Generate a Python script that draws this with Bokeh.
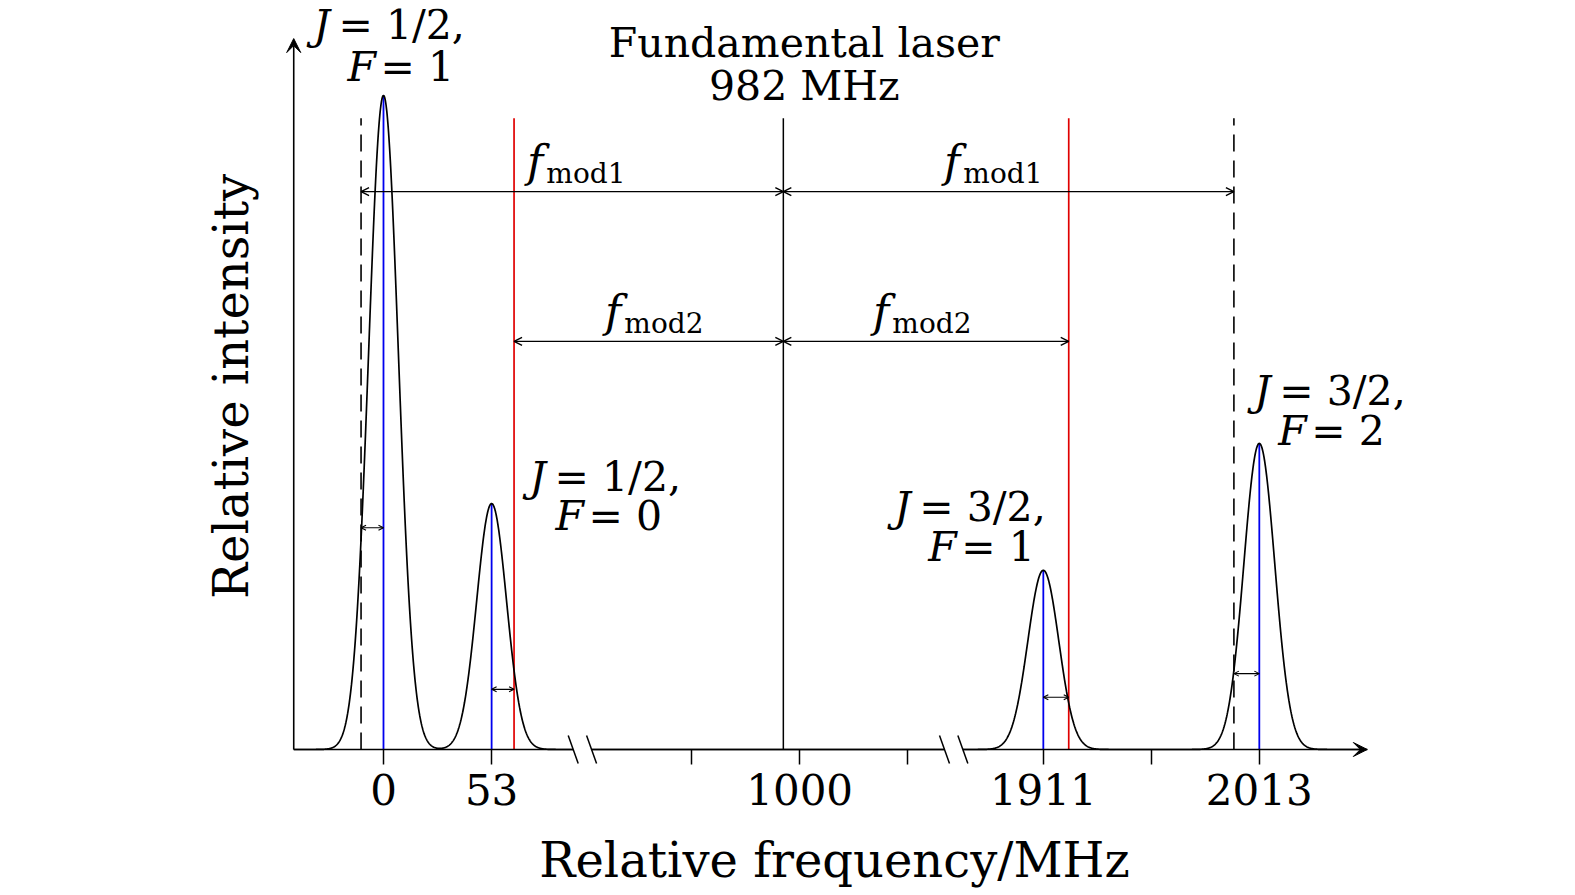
import numpy as np
from bokeh.plotting import figure
from bokeh.models import Range1d, FixedTicker, Arrow, VeeHead, OpenHead
from bokeh.core.properties import value
from bokeh.embed import file_html
from bokeh.resources import INLINE

# ---------------- data ----------------
peak_freq = [0, 53, 1911, 2013]            # MHz
peak_height = [1.0, 0.376, 0.274, 0.468]   # relative intensity
peak_sigma = 7.3                           # MHz (gaussian width)
peak_J = ["1/2", "1/2", "3/2", "3/2"]
peak_F = ["1", "0", "1", "2"]

tick_freq = [0, 53, 947, 1000, 1053, 1911, 1962, 2013]
tick_text = ["0", "53", "", "1000", "", "1911", "", "2013"]

laser_title = "Fundamental laser"
laser_label = "982 MHz"
laser_pos = 992                 # drawn position of the fundamental on the axis
sideband1_pos = [-11, 2001]     # dashed lines (f_mod1 sidebands)
sideband2_pos = [64, 1923]      # red lines (f_mod2 sidebands)
marker_top = 0.965
fmod1_level = 0.853
fmod2_level = 0.624
offset_arrow_level = [0.339, 0.092, 0.080, 0.116]

# broken axis: shown frequency ranges and their drawing scale
axis_segments = [(-44, 93), (898, 1071), (1873, 2064)]
segment_scale = [1.0, 1.0, 1.038]
BREAK_GAP = 9.0
y_axis_top = 1.087

# ---------------- broken-axis transform ----------------
seg_start = []
_u = axis_segments[0][0]
for (lo, hi), k in zip(axis_segments, segment_scale):
    seg_start.append(_u)
    _u += (hi - lo) * k + BREAK_GAP


def pos(f):
    f = np.asarray(f, dtype=float)
    out = np.full(f.shape, np.nan)
    for (lo, hi), k, u0 in zip(axis_segments, segment_scale, seg_start):
        m = (f >= lo - 1e-9) & (f <= hi + 1e-9)
        out[m] = u0 + (f[m] - lo) * k
    return out


def P(f):
    return float(pos([f])[0])


FONT = value("DejaVu Serif")
BLACK = "black"
FS = 41          # annotation font size (px)
SUB = 28         # subscript font size (px)
BL = -15         # baseline correction for FS text
BLS = -10        # baseline correction for SUB text

p = figure(width=1567, height=891,
           x_range=Range1d(-61.27, 503.43), y_range=Range1d(-0.02294, 1.1330),
           output_backend="svg", toolbar_location=None,
           min_border_left=258, min_border_right=157,
           min_border_top=8, min_border_bottom=127)
p.xgrid.visible = False
p.ygrid.visible = False
p.outline_line_color = None
p.background_fill_color = "white"
p.border_fill_color = "white"

# x axis: ticks + labels from the library, line drawn as broken segments
tick_u = [round(P(f), 4) for f in tick_freq]
p.xaxis.ticker = FixedTicker(ticks=tick_u, minor_ticks=[])
p.xaxis.major_label_overrides = {u: t for u, t in zip(tick_u, tick_text)}
p.xaxis.axis_line_color = None
p.xaxis.major_tick_in = 15
p.xaxis.major_tick_out = 0
p.xaxis.minor_tick_in = 0
p.xaxis.minor_tick_out = 0
p.xaxis.major_tick_line_width = 1.5
p.xaxis.major_tick_line_color = BLACK
p.xaxis.major_label_text_font = "DejaVu Serif"
p.xaxis.major_label_text_font_size = "42px"
p.xaxis.major_label_text_color = BLACK
p.xaxis.major_label_standoff = 9
p.xaxis.axis_label = "Relative frequency/MHz"
p.xaxis.axis_label_text_font = "DejaVu Serif"
p.xaxis.axis_label_text_font_size = "48px"
p.xaxis.axis_label_text_font_style = "normal"
p.xaxis.axis_label_text_color = BLACK
p.xaxis.axis_label_standoff = 24

p.yaxis.ticker = FixedTicker(ticks=[], minor_ticks=[])
p.yaxis.axis_line_color = None
p.yaxis.major_tick_out = 0
p.yaxis.major_tick_in = 0
p.yaxis.minor_tick_out = 0
p.yaxis.minor_tick_in = 0
p.yaxis.major_label_text_font_size = "0px"
p.yaxis.axis_label = "Relative intensity"
p.yaxis.axis_label_text_font = "DejaVu Serif"
p.yaxis.axis_label_text_font_size = "48px"
p.yaxis.axis_label_text_font_style = "normal"
p.yaxis.axis_label_text_color = BLACK
p.yaxis.axis_label_standoff = 0

# ---------------- marker lines ----------------
p.segment(x0=list(pos(sideband1_pos)), y0=[0, 0], x1=list(pos(sideband1_pos)),
          y1=[marker_top] * 2, line_color=BLACK, line_width=1.6, line_dash="17 9")
p.segment(x0=list(pos(sideband2_pos)), y0=[0, 0], x1=list(pos(sideband2_pos)),
          y1=[marker_top] * 2, line_color="#e00000", line_width=1.7)
p.segment(x0=[P(laser_pos)], y0=[0], x1=[P(laser_pos)], y1=[marker_top],
          line_color=BLACK, line_width=1.5)
p.segment(x0=list(pos(peak_freq)), y0=[0] * 4, x1=list(pos(peak_freq)),
          y1=peak_height, line_color="#0000ee", line_width=1.8)

# ---------------- spectrum ----------------
for lo, hi in axis_segments:
    f = np.linspace(lo, hi, 800)
    inten = np.zeros_like(f)
    for f0, h in zip(peak_freq, peak_height):
        inten += h * np.exp(-(f - f0) ** 2 / (2 * peak_sigma ** 2))
    p.line(pos(f), inten, line_color=BLACK, line_width=1.7)

# ---------------- axes (broken) ----------------
for lo, hi in axis_segments[:-1]:
    p.segment(x0=[P(lo)], y0=[0], x1=[P(hi)], y1=[0], line_color=BLACK, line_width=1.6)
last_lo, last_hi = axis_segments[-1]
p.add_layout(Arrow(x_start=P(last_lo), y_start=0, x_end=P(last_hi), y_end=0,
                   line_color=BLACK, line_width=1.6,
                   end=VeeHead(size=14, fill_color=BLACK, line_color=BLACK)))
x_left = P(axis_segments[0][0])
p.add_layout(Arrow(x_start=x_left, y_start=0, x_end=x_left, y_end=y_axis_top,
                   line_color=BLACK, line_width=1.6,
                   end=VeeHead(size=14, fill_color=BLACK, line_color=BLACK)))
# break marks
bx = []
for (lo, hi) in axis_segments[:-1]:
    bx.append(P(hi))
for (lo, hi) in axis_segments[1:]:
    bx.append(P(lo))
p.segment(x0=[b - 2.45 for b in bx], y0=[0.0214] * len(bx),
          x1=[b + 2.45 for b in bx], y1=[-0.0214] * len(bx),
          line_color=BLACK, line_width=1.5)


# ---------------- arrows ----------------
def darrow(f0, f1, y, size=8, lw=1.4):
    p.add_layout(Arrow(x_start=P(f0), y_start=y, x_end=P(f1), y_end=y,
                       line_color=BLACK, line_width=lw,
                       start=OpenHead(size=size, line_width=lw, line_color=BLACK),
                       end=OpenHead(size=size, line_width=lw, line_color=BLACK)))


darrow(sideband1_pos[0], laser_pos, fmod1_level)
darrow(laser_pos, sideband1_pos[1], fmod1_level)
darrow(sideband2_pos[0], laser_pos, fmod2_level)
darrow(laser_pos, sideband2_pos[1], fmod2_level)
hfs_pairs = [(sideband1_pos[0], peak_freq[0]), (peak_freq[1], sideband2_pos[0]),
             (peak_freq[2], sideband2_pos[1]), (sideband1_pos[1], peak_freq[3])]
for (a, b), y in zip(hfs_pairs, offset_arrow_level):
    darrow(a, b, y, size=5, lw=1.1)

# ---------------- texts ----------------
lx = P(laser_pos)
p.text(x=[lx, lx], y=[marker_top, marker_top], text=[laser_title, laser_label],
       x_offset=[21, 21], y_offset=[-60 + BL, -17 + BL], text_font=FONT,
       text_font_size=f"{FS}px",
       text_align="center", text_baseline="alphabetic", text_color=BLACK)

# hyperfine labels (screen offsets from each peak top)
J_off = [(-72, -55), (36, -12), (-151, -48), (-7, -37)]
F_off = [(-36, -13), (64, 27), (-115, -8), (19, 3)]
px_ = list(pos(peak_freq))
ital_x, ital_y, ital_t, ital_dx, ital_dy = [], [], [], [], []
rest_x, rest_y, rest_t, rest_dx, rest_dy = [], [], [], [], []
for xu, h, jv, fv, (jdx, jdy), (fdx, fdy) in zip(px_, peak_height, peak_J, peak_F, J_off, F_off):
    ital_x += [xu, xu]; ital_y += [h, h]; ital_t += ["J", "F"]
    ital_dx += [jdx + 2, fdx]; ital_dy += [jdy + BL, fdy + BL]
    rest_x += [xu, xu]; rest_y += [h, h]
    rest_t += [" = " + jv + ",", " = " + fv]
    rest_dx += [jdx + 27, fdx + 33]; rest_dy += [jdy + BL, fdy + BL]
p.text(x=ital_x, y=ital_y, text=ital_t, x_offset=ital_dx, y_offset=ital_dy,
       text_font=FONT, text_font_style="italic", text_font_size=f"{FS}px",
       text_align="left", text_baseline="alphabetic", text_color=BLACK)
p.text(x=rest_x, y=rest_y, text=rest_t, x_offset=rest_dx, y_offset=rest_dy,
       text_font=FONT, text_font_size=f"{FS}px",
       text_align="left", text_baseline="alphabetic", text_color=BLACK)

# f_mod labels
fm_y = [fmod1_level, fmod1_level, fmod2_level, fmod2_level]
fm_dx = [-240, 177, -162, 106]
fm_sub = ["mod1", "mod1", "mod2", "mod2"]
p.text(x=[lx] * 4, y=fm_y, text=["f"] * 4, x_offset=fm_dx, y_offset=[-15 + BL] * 4,
       text_font=FONT, text_font_style="italic", text_font_size="44px",
       text_align="right", text_baseline="alphabetic", text_color=BLACK)
p.text(x=[lx] * 4, y=fm_y, text=fm_sub, x_offset=[d + 3 for d in fm_dx],
       y_offset=[-8 + BLS] * 4,
       text_font=FONT, text_font_size=f"{SUB}px",
       text_align="left", text_baseline="alphabetic", text_color=BLACK)

open("out.html", "w").write(file_html(p, INLINE))
